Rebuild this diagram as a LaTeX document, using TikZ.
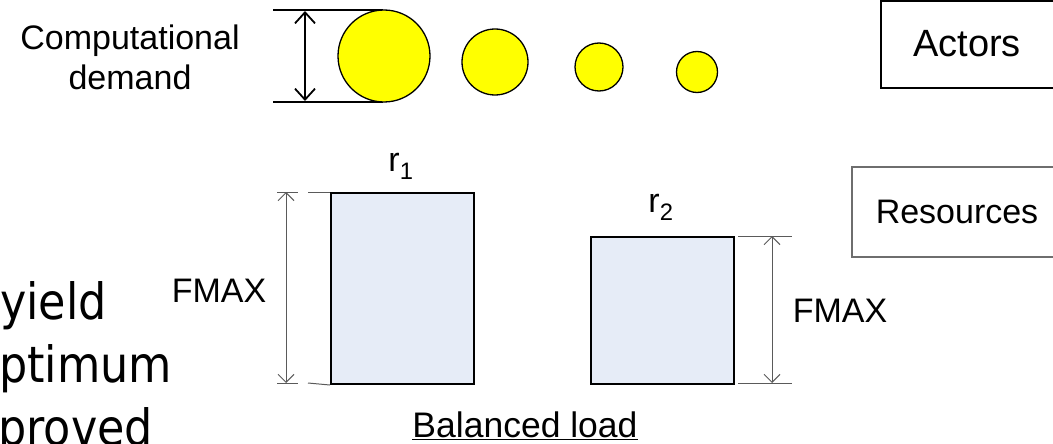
\documentclass[tikz,border=0pt]{standalone}
\usepackage{fontspec}
\usepackage{graphicx}
\setmainfont{Liberation Sans}
\newfontfamily\bigfont{DejaVu Sans}
\usetikzlibrary{arrows.meta}
\definecolor{circyellow}{RGB}{255,255,0}
\definecolor{resfill}{RGB}{230,236,247}
\definecolor{dimgray}{RGB}{90,90,90}
\definecolor{boxgray}{RGB}{110,110,110}
\tikzset{
  lbl/.style={font=\fontsize{34}{40}\selectfont, inner sep=0pt, align=center},
  circ/.style={circle, draw=black, line width=1.3pt, fill=circyellow, inner sep=0pt},
  resbox/.style={draw=black, line width=2pt, fill=resfill, anchor=north west, inner sep=0pt},
  dim/.style={draw=dimgray, line width=1pt},
  dimarrow/.style={dim, {Straight Barb[length=8pt,width=16pt]}-{Straight Barb[length=8pt,width=16pt]}},
  demarrow/.style={draw=black, line width=1.8pt, {Straight Barb[length=11pt,width=20pt]}-{Straight Barb[length=11pt,width=20pt]}},
  bigtxt/.style={font=\bigfont\fontsize{50}{60}\selectfont, inner sep=0pt, anchor=base west},
}
\begin{document}
\begin{tikzpicture}[x=1pt,y=-1pt]
\useasboundingbox (0,0) rectangle (1053,444);
\clip (0,0) rectangle (1053,444);
% computational demand
\node[lbl] (cd) at (130,57) {Computational\\demand};
\coordinate (lt0) at (273,10);
\coordinate (lt1) at (383,10);
\coordinate (lb0) at (273,102);
\coordinate (lb1) at (383,102);
\draw[line width=1.5pt] (lt0) -- (lt1);
\draw[line width=1.5pt] (lb0) -- (lb1);
\coordinate (da) at (305,11);
\coordinate (db) at (305,101);
\draw[demarrow] (da) -- (db);
% circles
\node[circ, minimum size=92pt] (c1) at (384,56) {};
\node[circ, minimum size=66pt] (c2) at (495,62) {};
\node[circ, minimum size=48pt] (c3) at (599,67) {};
\node[circ, minimum size=41pt] (c4) at (697,72) {};
% actors box
\draw[line width=1.3pt] (881,1) rectangle (1060,88);
\node[lbl, font=\fontsize{38}{44}\selectfont] (act) at (967,44) {Actors};
% resources box
\draw[draw=boxgray, line width=1.5pt] (852,167) rectangle (1060,257);
\node[lbl] (res) at (957,212) {Resources};
% resource rectangles
\node[resbox, minimum width=143pt, minimum height=191pt] (r1) at (330,192) {};
\node[resbox, minimum width=143pt, minimum height=147pt] (r2) at (590,236) {};
\node[lbl] (r1l) at (401,166) {r\textsubscript{1}};
\node[lbl] (r2l) at (661,207) {r\textsubscript{2}};
% left dimension
\coordinate (l1) at (286,192);
\coordinate (l2) at (286,383);
\draw[dimarrow] (l1) -- (l2);
\draw[dim] (277,192) -- (298,192);
\draw[dim] (277,383) -- (298,383);
\draw[dim] (308,192) -- (r1.north west);
\draw[dim] (308,383) -- (r1.south west);
\node[lbl] (fm1) at (219,291) {FMAX};
% right dimension
\coordinate (q1) at (772,236);
\coordinate (q2) at (772,383);
\draw[dimarrow] (q1) -- (q2);
\draw[dim] (738,236) -- (792,236);
\draw[dim] (738,383) -- (792,383);
\node[lbl] (fm2) at (840,311) {FMAX};
% balanced load
\node[lbl, anchor=base, font=\fontsize{35.5}{42}\selectfont] (bl) at (525,437) {\underline{Balanced load}};
% left text
\node[bigtxt] (t1) at (0,319) {\scalebox{0.89}[1]{yield}};
\node[bigtxt] (t2) at (-1,382) {\scalebox{0.89}[1]{ptimum}};
\node[bigtxt] (t3) at (-2,445) {\scalebox{0.89}[1]{proved}};
\end{tikzpicture}
\end{document}
